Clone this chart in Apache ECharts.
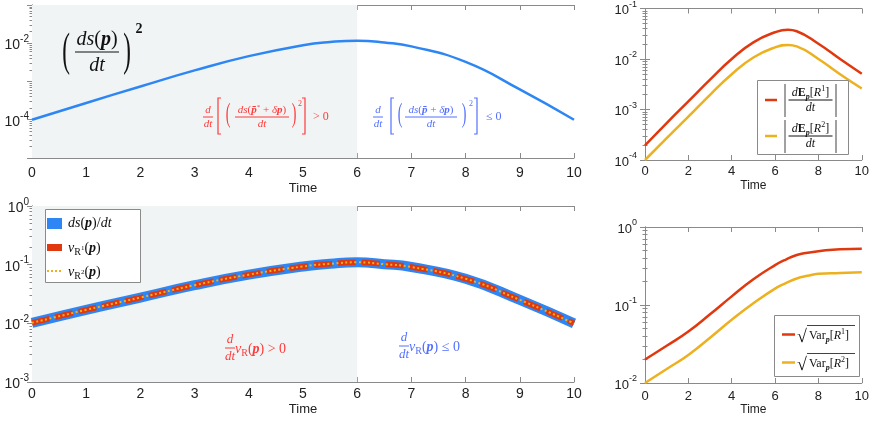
<!DOCTYPE html>
<html>
<head>
<meta charset="utf-8">
<script src="https://cdn.jsdelivr.net/npm/echarts@6/dist/echarts.min.js"></script>
<style>
  html, body { margin: 0; padding: 0; background: #fff; }
  #main { width: 872px; height: 423px; }
</style>
</head>
<body>
<div id="main"></div>
<script>
// sample times
var timeLeft = [0, 1, 2, 3, 4, 5, 5.5, 6, 6.5, 7, 8, 9, 10];
var timeRight = [0, 1, 2, 3, 4, 5, 6, 6.6, 7, 8, 9, 10];
var timeVar = [0, 1, 2, 3, 4, 5, 6, 6.5, 7, 7.5, 8, 9, 10];

// (ds(p)/dt)^2, top left
var dsdtSq = [1.0e-4, 2.75e-4, 7.4e-4, 1.95e-3, 4.6e-3, 8.9e-3, 1.08e-2, 1.17e-2, 1.05e-2, 8.3e-3, 3.25e-3, 6.2e-4, 1.0e-4];
// ds(p)/dt, v_R1(p), v_R2(p), bottom left (they coincide)
var dsdt = [0.0102, 0.0170, 0.0275, 0.0447, 0.0676, 0.0933, 0.1035, 0.1096, 0.1020, 0.0912, 0.0575, 0.0251, 0.0100];
// |dE[R]/dt|, top right
var dER1 = [1.95e-4, 5.4e-4, 1.45e-3, 3.9e-3, 1.0e-2, 2.14e-2, 3.39e-2, 3.8e-2, 3.55e-2, 2.0e-2, 1.0e-2, 5.1e-3];
var dER2 = [1.0e-4, 2.7e-4, 7.2e-4, 1.95e-3, 5.0e-3, 1.07e-2, 1.7e-2, 1.9e-2, 1.78e-2, 1.0e-2, 5.0e-3, 2.6e-3];
// sqrt(Var[R]), bottom right
var sdR1 = [0.020, 0.030, 0.0457, 0.076, 0.129, 0.214, 0.324, 0.383, 0.437, 0.468, 0.49, 0.519, 0.525];
var sdR2 = [0.010, 0.0151, 0.0229, 0.038, 0.0646, 0.105, 0.162, 0.191, 0.219, 0.237, 0.251, 0.257, 0.263];

var shadeEnd = 6;

var BLUE = '#2d86f4', RED = '#e0380f', YEL = '#edb120';
var TXT_RED = '#ff3a3a', TXT_BLUE = '#5470ff';
var AX = '#8a8a8a';
var SANS = "'Liberation Sans', Arial, sans-serif";
var SERIF = "'Liberation Serif', 'DejaVu Serif', serif";

function pairs(xs, ys) {
    var out = [];
    for (var i = 0; i < xs.length; i++) out.push([xs[i], ys[i]]);
    return out;
}

function powLabel(shown, fs) {
    return {
        margin: fs > 13 ? 3 : 8,
        formatter: function (v) {
            var e = Math.round(Math.log10(v));
            if (shown.indexOf(e) < 0) return '';
            return '{b|10}{s|' + e + '}';
        },
        rich: {
            b: { fontFamily: SANS, fontSize: fs, color: '#222', lineHeight: fs + 4, verticalAlign: 'bottom' },
            s: { fontFamily: SANS, fontSize: fs - 4, color: '#222', lineHeight: fs - 2, verticalAlign: 'top' }
        }
    };
}

function yAxes(grid, min, max, shown, fs) {
    var base = {
        type: 'log', logBase: 10, gridIndex: grid, min: min, max: max,
        axisLine: { show: true, lineStyle: { color: AX } },
        axisTick: { show: true, inside: true, length: 5, lineStyle: { color: AX } },
        minorTick: { show: true, splitNumber: 9, length: 2.5, lineStyle: { color: AX } },
        splitLine: { show: false }
    };
    var left = Object.assign({}, base, { position: 'left', axisLabel: powLabel(shown, fs) });
    var right = Object.assign({}, base, { position: 'right', axisLabel: { show: false } });
    return [left, right];
}

function xAxes(grid, interval, fs, margin, gap) {
    var base = {
        type: 'value', gridIndex: grid, min: 0, max: 10, interval: interval,
        axisLine: { show: true, onZero: false, lineStyle: { color: AX } },
        axisTick: { show: true, inside: true, length: 5, lineStyle: { color: AX } },
        splitLine: { show: false }
    };
    var bottom = Object.assign({}, base, {
        position: 'bottom', name: 'Time', nameLocation: 'middle', nameGap: gap,
        nameTextStyle: { fontFamily: SANS, fontSize: fs - 1, color: '#222' },
        axisLabel: { fontFamily: SANS, fontSize: fs, color: '#222', margin: margin }
    });
    var top = Object.assign({}, base, { position: 'top', axisLabel: { show: false } });
    return [bottom, top];
}

// ---- math text helpers (graphic layer) ----
function rich(fs, c) {
    var lh = Math.round(fs * 1.3);
    return {
        i: { fontFamily: SERIF, fontStyle: 'italic', fontSize: fs, fill: c, lineHeight: lh },
        b: { fontFamily: SERIF, fontStyle: 'italic', fontWeight: 'bold', fontSize: fs, fill: c, lineHeight: lh },
        r: { fontFamily: SERIF, fontSize: fs, fill: c, lineHeight: lh },
        rb: { fontFamily: SERIF, fontWeight: 'bold', fontSize: fs, fill: c, lineHeight: lh },
        sup: { fontFamily: SERIF, fontSize: Math.round(fs * 0.68), fill: c, verticalAlign: 'top', lineHeight: Math.round(fs * 0.75) },
        sub: { fontFamily: SERIF, fontSize: Math.round(fs * 0.68), fill: c, verticalAlign: 'bottom', lineHeight: Math.round(fs * 0.75) },
        subb: { fontFamily: SERIF, fontWeight: 'bold', fontStyle: 'italic', fontSize: Math.round(fs * 0.68), fill: c, verticalAlign: 'bottom', lineHeight: Math.round(fs * 0.75) },
        tiny: { fontFamily: SERIF, fontSize: Math.round(fs * 0.5), fill: c, verticalAlign: 'middle', lineHeight: Math.round(fs * 0.5) }
    };
}
function tx(x, y, s, fs, c, align) {
    return {
        type: 'text', x: x, y: y, z: 100,
        style: { text: s, rich: rich(fs, c), fill: c, align: align || 'center', verticalAlign: 'middle' }
    };
}
function ln(x1, y1, x2, y2, c, w) {
    return { type: 'line', z: 100, shape: { x1: x1, y1: y1, x2: x2, y2: y2 }, style: { stroke: c, lineWidth: w || 1 } };
}
function poly(pts, c, w) {
    return { type: 'polyline', z: 100, shape: { points: pts }, style: { stroke: c, fill: null, lineWidth: w || 1 } };
}
function paren(x, y, ch, fs, c, sx) {
    return {
        type: 'text', x: x, y: y, z: 100, scaleX: sx || 0.55,
        style: { text: ch, font: fs + 'px ' + SERIF, fill: c, align: 'center', verticalAlign: 'middle' }
    };
}
function frac(cx, y, num, den, fs, c, half) {
    return [
        tx(cx, y - fs * 0.62, num, fs, c),
        ln(cx - half, y, cx + half, y, c, 1),
        tx(cx, y + fs * 0.68, den, fs, c)
    ];
}
function bracket(x, y1, y2, dir, c) {
    return poly([[x + 3 * dir, y1], [x, y1], [x, y2], [x + 3 * dir, y2]], c, 1.2);
}
function box(x, y, w, h) {
    return { type: 'rect', z: 99, shape: { x: x, y: y, width: w, height: h }, style: { fill: '#fff', stroke: '#8a8a8a', lineWidth: 1 } };
}

var g = [];
// big label (ds(p)/dt)^2
g.push(paren(66, 53, '(', 46, '#111', 0.5));
g = g.concat(frac(97, 52, '{i|ds}{r|(}{b|p}{r|)}', '{i|dt}', 20, '#111', 22));
g.push(paren(127, 53, ')', 46, '#111', 0.5));
g.push(tx(139, 29, '{rb|2}', 14, '#111'));

// red annotation, top
g = g.concat(frac(208, 117, '{i|d}', '{i|dt}', 11, TXT_RED, 5));
g.push(bracket(218, 98, 134, 1, TXT_RED));
g.push(paren(228, 115, '(', 28, TXT_RED, 0.5));
g = g.concat(frac(262, 117, '{i|ds}{r|(}{b|p\u0304}{sup|*}{r| + }{i|\u03b4}{b|p}{r|)}', '{i|dt}', 11, TXT_RED, 27));
g.push(paren(294, 115, ')', 28, TXT_RED, 0.5));
g.push(tx(300, 104, '{r|2}', 8, TXT_RED));
g.push(bracket(305, 98, 134, -1, TXT_RED));
g.push(tx(313, 117, '{r|> 0}', 12, TXT_RED, 'left'));

// blue annotation, top
g = g.concat(frac(378, 117, '{i|d}', '{i|dt}', 11, TXT_BLUE, 5));
g.push(bracket(391, 98, 134, 1, TXT_BLUE));
g.push(paren(400, 115, '(', 28, TXT_BLUE, 0.5));
g = g.concat(frac(431, 117, '{i|ds}{r|(}{b|p\u0304}{r| + }{i|\u03b4}{b|p}{r|)}', '{i|dt}', 11, TXT_BLUE, 26));
g.push(paren(464, 115, ')', 28, TXT_BLUE, 0.5));
g.push(tx(471, 104, '{r|2}', 8, TXT_BLUE));
g.push(bracket(477, 98, 134, -1, TXT_BLUE));
g.push(tx(486, 117, '{r|\u2264 0}', 12, TXT_BLUE, 'left'));

// bottom annotations
g = g.concat(frac(230, 348, '{i|d}', '{i|dt}', 13, TXT_RED, 5));
g.push(tx(235, 349, '{i|v}{sub|R}{r|(}{b|p}{r|) > 0}', 14, TXT_RED, 'left'));
g = g.concat(frac(404, 346, '{i|d}', '{i|dt}', 13, TXT_BLUE, 5));
g.push(tx(409, 347, '{i|v}{sub|R}{r|(}{b|p}{r|) \u2264 0}', 14, TXT_BLUE, 'left'));

// legend, bottom left
g.push(box(45.5, 209.5, 95, 73));
g.push({ type: 'rect', z: 100, shape: { x: 47, y: 218, width: 15, height: 11 }, style: { fill: BLUE } });
g.push(tx(68, 223, '{i|ds}{r|(}{b|p}{r|)/}{i|dt}', 14, '#111', 'left'));
g.push({ type: 'rect', z: 100, shape: { x: 47, y: 244, width: 15, height: 7 }, style: { fill: RED } });
g.push(tx(68, 248, '{i|v}{sub|R}{tiny|1}{r|(}{b|p}{r|)}', 14, '#111', 'left'));
g.push({ type: 'line', z: 100, shape: { x1: 47, y1: 271, x2: 62, y2: 271 }, style: { stroke: YEL, lineWidth: 2, lineDash: [2, 2] } });
g.push(tx(68, 272, '{i|v}{sub|R}{tiny|2}{r|(}{b|p}{r|)}', 14, '#111', 'left'));

// legend, top right
g.push(box(757.5, 80.5, 91, 74));
g.push(ln(765, 100, 777, 100, RED, 2.5));
g.push(ln(785, 84, 785, 117, '#111', 0.8));
g.push(ln(836, 84, 836, 117, '#111', 0.8));
g = g.concat(frac(810.5, 100, '{i|d}{rb|E}{subb|p}{r|[}{i|R}{sup|1}{r|]}', '{i|dt}', 12, '#111', 22));
g.push(ln(765, 136, 777, 136, YEL, 2.5));
g.push(ln(785, 120, 785, 153, '#111', 0.8));
g.push(ln(836, 120, 836, 153, '#111', 0.8));
g = g.concat(frac(810.5, 136, '{i|d}{rb|E}{subb|p}{r|[}{i|R}{sup|2}{r|]}', '{i|dt}', 12, '#111', 22));

// legend, bottom right
g.push(box(774.5, 315.5, 85, 61));
g.push(ln(782, 334.5, 795, 334.5, RED, 2.5));
g.push(tx(802, 337, '{r|\u221a}', 18, '#111'));
g.push(ln(807, 325.5, 855, 325.5, '#111', 0.8));
g.push(tx(809, 336, '{r|Var}{subb|p}{r|[}{i|R}{sup|1}{r|]}', 12, '#111', 'left'));
g.push(ln(782, 362.5, 795, 362.5, YEL, 2.5));
g.push(tx(802, 365, '{r|\u221a}', 18, '#111'));
g.push(ln(807, 353.5, 855, 353.5, '#111', 0.8));
g.push(tx(809, 364, '{r|Var}{subb|p}{r|[}{i|R}{sup|2}{r|]}', 12, '#111', 'left'));

var shade = {
    silent: true,
    itemStyle: { color: '#f0f4f5' },
    data: [[{ xAxis: 0 }, { xAxis: shadeEnd }]]
};

function lineSeries(xi, yi, data, color, width, dash, z) {
    return {
        type: 'line', xAxisIndex: xi, yAxisIndex: yi, data: data,
        showSymbol: false, symbol: 'none', smooth: 0.5, z: z || 2,
        lineStyle: { color: color, width: width, type: dash || 'solid', cap: 'butt' }
    };
}

var ax0 = xAxes(0, 1, 14, 8, 24), ax1 = xAxes(1, 1, 14, 5, 21);
var ax2 = xAxes(2, 2, 13, 5, 20), ax3 = xAxes(3, 2, 13, 7, 21);
var ay0 = yAxes(0, 1e-5, 1e-1, [-4, -2], 14), ay1 = yAxes(1, 1e-3, 1, [-3, -2, -1, 0], 14);
var ay2 = yAxes(2, 1e-4, 1e-1, [-4, -3, -2, -1], 13), ay3 = yAxes(3, 1e-2, 1, [-2, -1, 0], 13);

var s0 = lineSeries(0, 0, pairs(timeLeft, dsdtSq), BLUE, 2.5);
s0.markArea = shade;
var s1 = lineSeries(2, 2, pairs(timeLeft, dsdt), BLUE, 10, 'solid', 2);
s1.markArea = shade;
var s2 = lineSeries(2, 2, pairs(timeLeft, dsdt), RED, 5.5, [18, 6], 3);
var s3 = lineSeries(2, 2, pairs(timeLeft, dsdt), YEL, 2, [2, 2.5], 4);

var option = {
    animation: false,
    backgroundColor: '#fff',
    grid: [
        { left: 32, top: 5, width: 542, height: 153 },
        { left: 32, top: 206, width: 542, height: 176 },
        { left: 645, top: 7, width: 220, height: 153 },
        { left: 645, top: 227, width: 220, height: 156 }
    ],
    xAxis: ax0.concat(ax1, ax2, ax3),
    yAxis: ay0.concat(ay1, ay2, ay3),
    series: [
        s0, s1, s2, s3,
        lineSeries(4, 4, pairs(timeRight, dER1), RED, 2.5),
        lineSeries(4, 4, pairs(timeRight, dER2), YEL, 2.5),
        lineSeries(6, 6, pairs(timeVar, sdR1), RED, 2.5),
        lineSeries(6, 6, pairs(timeVar, sdR2), YEL, 2.5)
    ],
    graphic: g
};

var myChart = echarts.init(document.getElementById('main'));
myChart.setOption(option);
</script>
</body>
</html>
